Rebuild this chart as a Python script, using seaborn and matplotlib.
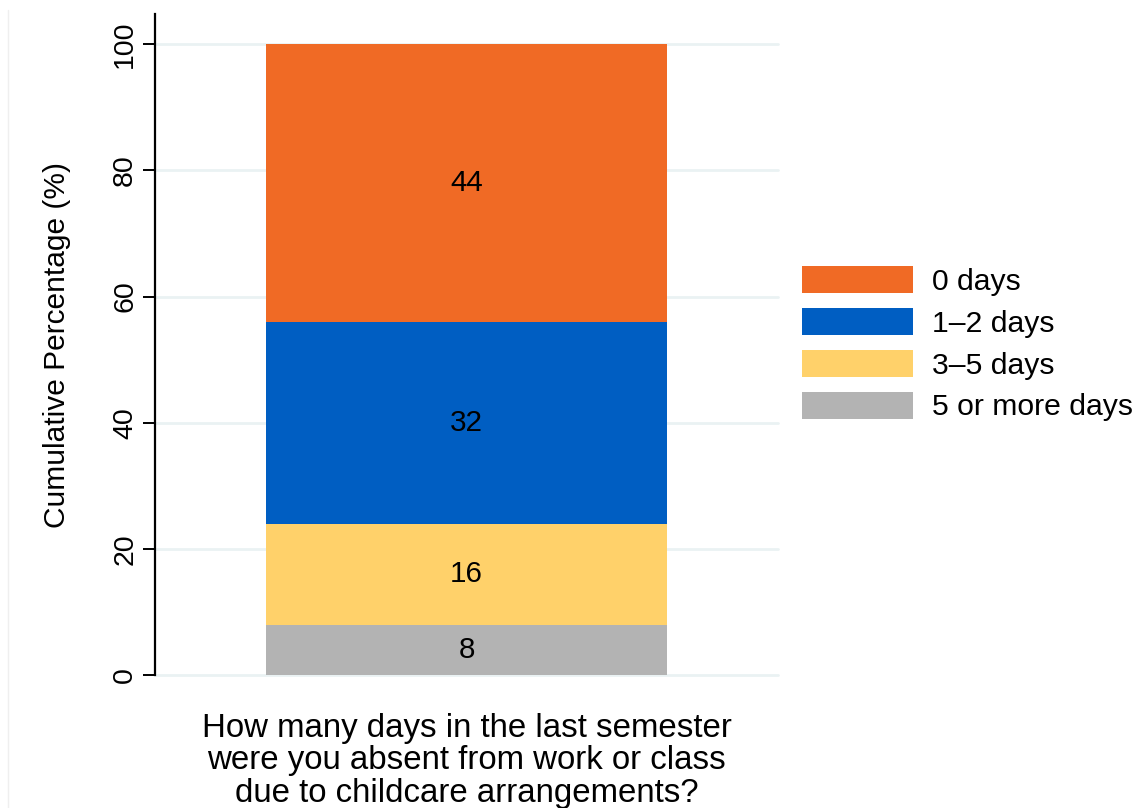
import matplotlib
matplotlib.use("Agg")
import matplotlib.pyplot as plt
import seaborn as sns
import pandas as pd
from matplotlib.patches import Patch

categories = ["0 days", "1\u20132 days", "3\u20135 days", "5 or more days"]
values = [44, 32, 16, 8]
colors = ["#F06A25", "#005EC2", "#FFD16A", "#B3B3B3"]
question = "How many days in the last semester\nwere you absent from work or class\ndue to childcare arrangements?"
yticks = [0, 20, 40, 60, 80, 100]

sns.set_theme(style="white")
plt.rcParams["font.family"] = ["Liberation Sans", "DejaVu Sans"]
plt.rcParams["text.color"] = "black"
plt.rcParams["axes.labelcolor"] = "black"
plt.rcParams["ytick.color"] = "black"

fig = plt.figure(figsize=(11.36, 8.08), dpi=100)
ax = fig.add_axes([155/1136, 1-675/808, (778-155)/1136, (675-14)/808])

# cumulative stacks: bottom-most is last category
rev_vals = values[::-1]
rev_cats = categories[::-1]
rev_cols = colors[::-1]
cum = []
s = 0
for v in rev_vals:
    s += v
    cum.append(s)
df = pd.DataFrame({"q": [question]*len(cum), "cum": cum, "cat": rev_cats, "v": rev_vals})

# draw from tallest to shortest so smaller overlay
for i in range(len(cum)-1, -1, -1):
    sub = df.iloc[[i]]
    sns.barplot(data=sub, x="q", y="cum", color=rev_cols[i], width=0.645,
                saturation=1, ax=ax, zorder=3, errorbar=None, linewidth=0)

for i in range(len(cum)):
    mid = cum[i] - rev_vals[i] / 2
    ax.text(0, mid, f"{rev_vals[i]}", ha="center", va="center", fontsize=21.3,
            color="black", zorder=4)

ax.set_xlim(-0.5, 0.5)
ax.set_ylim(0, 104.8)
ax.set_yticks(yticks)
ax.set_yticklabels([str(t) for t in yticks], rotation=90, va="center", fontsize=20.5)
ax.yaxis.grid(True, color="#EAF2F3", linewidth=2, zorder=0)
ax.set_axisbelow(True)
for g in ax.get_ygridlines():
    g.set_clip_on(False)
ax.tick_params(axis="y", direction="out", length=8.6, width=1.4, color="black", pad=3.5, left=True)
ax.tick_params(axis="x", length=0, labelbottom=False)
for sp in ["top", "right", "bottom"]:
    ax.spines[sp].set_visible(False)
ax.spines["left"].set_color("black")
ax.spines["left"].set_linewidth(1.6)
ax.set_ylabel("Cumulative Percentage (%)", fontsize=21.5)
ax.yaxis.set_label_coords(-0.135, 0.5)
ax.set_xlabel(question, fontsize=23.8, labelpad=27, linespacing=1.08)

handles = [Patch(facecolor=c, edgecolor="none") for c in colors]
fig.legend(handles, categories, loc="upper left",
           bbox_to_anchor=(802/1136, 1-266/808), frameon=False, fontsize=21.7,
           handlelength=3.69, handleheight=1.0, labelspacing=0.4,
           borderpad=0, borderaxespad=0, handletextpad=0.63)

fig.add_artist(plt.Line2D([8/1136, 8/1136], [0, 1-10/808], color="#EFEFEF", linewidth=1,
                          transform=fig.transFigure))

fig.savefig("out.png", dpi=100, facecolor="white")
